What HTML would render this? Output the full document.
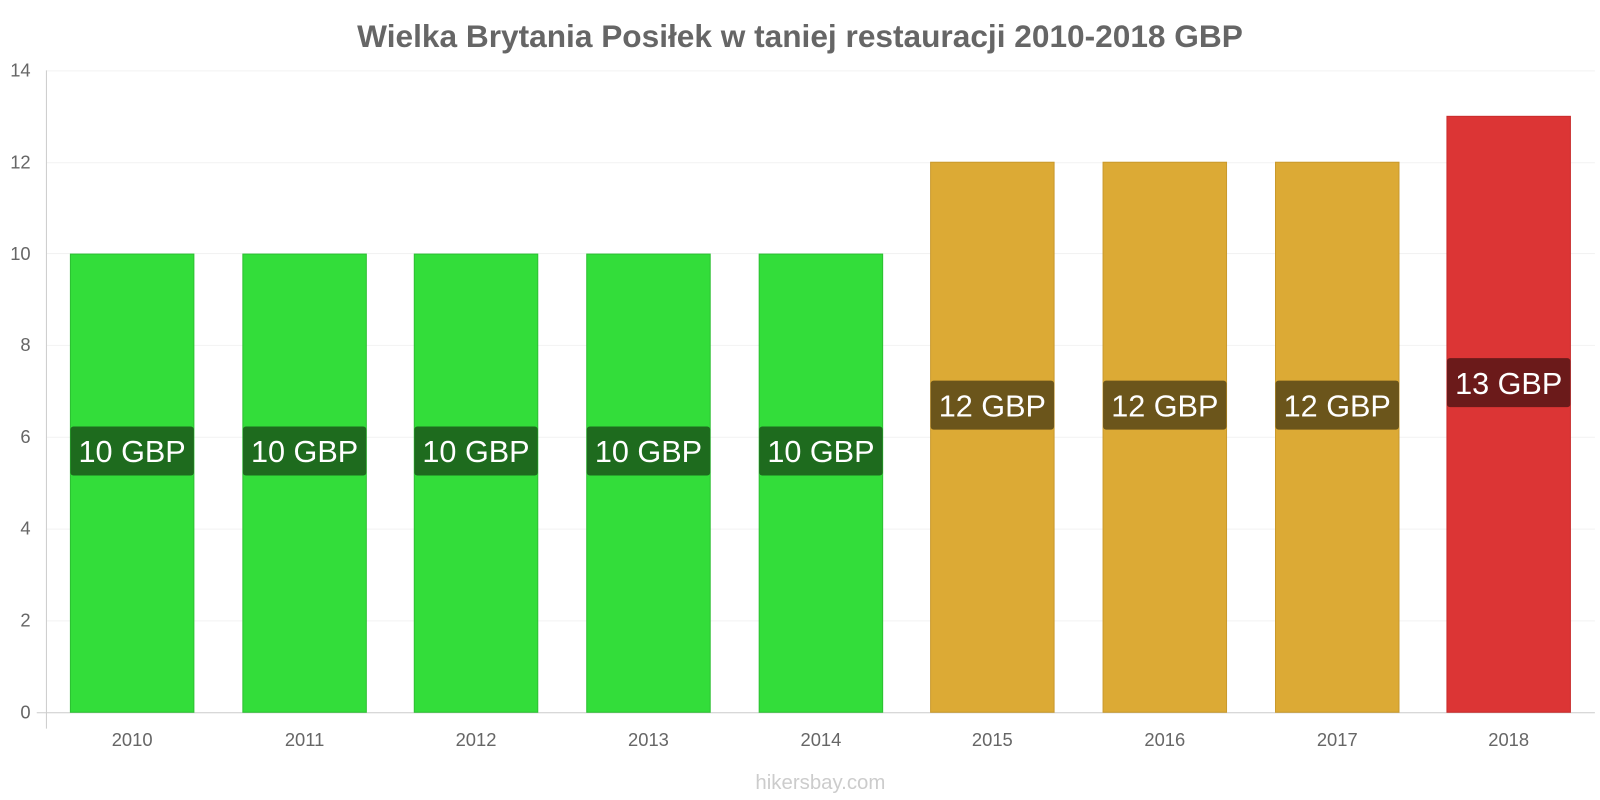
<!DOCTYPE html>
<html><head><meta charset="utf-8"><style>
html,body{margin:0;padding:0;background:#fff;width:1600px;height:800px;overflow:hidden;}
svg{display:block;font-family:"Liberation Sans",sans-serif;}
</style></head><body>
<svg width="1600" height="800" viewBox="0 0 1568 784" xmlns="http://www.w3.org/2000/svg">
<text x="784" y="46" text-anchor="middle" font-size="31" font-weight="bold" fill="#666">Wielka Brytania Posiłek w taniej restauracji 2010-2018 GBP</text>
<g stroke="#f2f2f2" stroke-width="1">
<line x1="46" x2="1563" y1="69.5" y2="69.5"/><line x1="46" x2="1563" y1="159.5" y2="159.5"/>
<line x1="46" x2="1563" y1="248.5" y2="248.5"/><line x1="46" x2="1563" y1="338.5" y2="338.5"/>
<line x1="46" x2="1563" y1="428.5" y2="428.5"/><line x1="46" x2="1563" y1="518.5" y2="518.5"/>
<line x1="46" x2="1563" y1="608.5" y2="608.5"/>
</g>
<g font-size="18" fill="#666" text-anchor="end">
<text x="30" y="75">14</text><text x="30" y="165">12</text><text x="30" y="255">10</text>
<text x="30" y="344">8</text><text x="30" y="434">6</text><text x="30" y="524">4</text>
<text x="30" y="614">2</text><text x="30" y="704">0</text>
</g>
<line x1="45.5" x2="45.5" y1="69" y2="714" stroke="#ccc"/>
<line x1="36" x2="1563" y1="698.5" y2="698.5" stroke="#ccc"/>
<g stroke-width="1">
<rect x="69" y="249" width="121" height="449" fill="#33dd3a" stroke="#2cc032"/>
<rect x="238" y="249" width="121" height="449" fill="#33dd3a" stroke="#2cc032"/>
<rect x="406" y="249" width="121" height="449" fill="#33dd3a" stroke="#2cc032"/>
<rect x="575" y="249" width="121" height="449" fill="#33dd3a" stroke="#2cc032"/>
<rect x="744" y="249" width="121" height="449" fill="#33dd3a" stroke="#2cc032"/>
<rect x="912" y="159" width="121" height="539" fill="#dcaa35" stroke="#c9992c"/>
<rect x="1081" y="159" width="121" height="539" fill="#dcaa35" stroke="#c9992c"/>
<rect x="1250" y="159" width="121" height="539" fill="#dcaa35" stroke="#c9992c"/>
<rect x="1418" y="114" width="121" height="584" fill="#dc3535" stroke="#c92c2c"/>
</g>
<g>
<rect x="69" y="418" width="121" height="48" rx="3" fill="#1e6b1e"/>
<rect x="238" y="418" width="121" height="48" rx="3" fill="#1e6b1e"/>
<rect x="406" y="418" width="121" height="48" rx="3" fill="#1e6b1e"/>
<rect x="575" y="418" width="121" height="48" rx="3" fill="#1e6b1e"/>
<rect x="744" y="418" width="121" height="48" rx="3" fill="#1e6b1e"/>
<rect x="912" y="373" width="121" height="48" rx="3" fill="#6b551b"/>
<rect x="1081" y="373" width="121" height="48" rx="3" fill="#6b551b"/>
<rect x="1250" y="373" width="121" height="48" rx="3" fill="#6b551b"/>
<rect x="1418" y="351" width="121" height="48" rx="3" fill="#6b1a1a"/>
</g>
<g font-size="30" fill="#fff" text-anchor="middle">
<text x="129.5" y="453">10 GBP</text><text x="298.5" y="453">10 GBP</text>
<text x="466.5" y="453">10 GBP</text><text x="635.5" y="453">10 GBP</text>
<text x="804.5" y="453">10 GBP</text><text x="972.5" y="408">12 GBP</text>
<text x="1141.5" y="408">12 GBP</text><text x="1310.5" y="408">12 GBP</text>
<text x="1478.5" y="386">13 GBP</text>
</g>
<g font-size="18" fill="#666" text-anchor="middle">
<text x="129.5" y="731">2010</text><text x="298.5" y="731">2011</text><text x="466.5" y="731">2012</text>
<text x="635.5" y="731">2013</text><text x="804.5" y="731">2014</text><text x="972.5" y="731">2015</text>
<text x="1141.5" y="731">2016</text><text x="1310.5" y="731">2017</text><text x="1478.5" y="731">2018</text>
</g>
<text x="804" y="773" text-anchor="middle" font-size="20" fill="#ccc">hikersbay.com</text>
</svg>
</body></html>
